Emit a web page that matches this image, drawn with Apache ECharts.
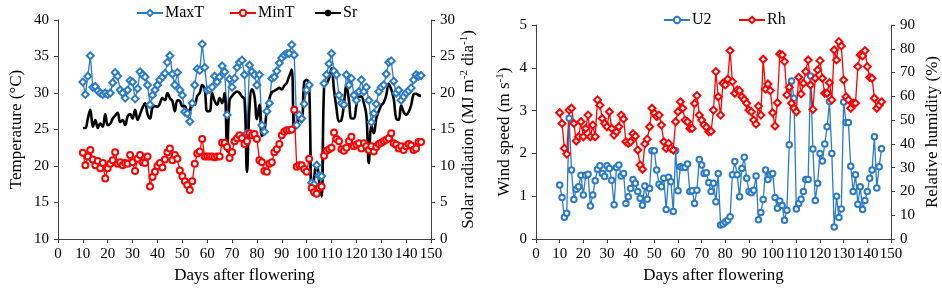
<!DOCTYPE html>
<html>
<head>
<meta charset="utf-8">
<script src="https://cdn.jsdelivr.net/npm/echarts@6/dist/echarts.min.js"></script>
<style>
  html, body { margin: 0; padding: 0; background: #fff; }
  #chart { width: 942px; height: 291px; }
</style>
</head>
<body>
<div id="chart"></div>
<script>
// days after flowering, one reading per day
const FIRST_DAY = 10;
const LAST_DAY = 146;

// left panel: temperature (°C) and solar radiation (MJ m-2 dia-1)
const maxT = [
  31.5, 29.8, 32.3, 35.1, 30.8, 30.9, 30.3, 30.0, 29.8, 30.0,
  29.8, 30.0, 31.4, 32.8, 32.3, 30.4, 30.0, 29.3, 30.4, 31.7,
  31.5, 29.2, 30.6, 32.9, 32.5, 32.2, 31.1, 28.4, 29.7, 30.4,
  31.1, 31.8, 32.2, 32.7, 34.2, 35.1, 32.6, 31.1, 32.8, 30.4,
  29.7, 27.4, 27.2, 26.1, 28.6, 31.1, 33.3, 33.1, 36.7, 33.5,
  30.4, 30.5, 30.8, 32.3, 31.5, 32.2, 33.7, 32.9, 27.0, 31.9,
  30.8, 32.0, 33.5, 34.2, 34.5, 32.5, 24.5, 33.8, 32.9, 32.5,
  31.1, 32.5, 25.6, 24.7, 27.5, 28.6, 32.0, 32.2, 33.0, 34.1,
  34.8, 35.2, 35.4, 35.4, 36.6, 35.2, 25.6, 27.0, 26.5, 28.5,
  30.4, 31.1, 17.7, 17.5, 20.1, 18.7, 18.6, 31.3, 32.5, 34.0,
  35.4, 33.0, 32.5, 29.7, 28.6, 28.4, 32.5, 31.1, 32.0, 29.7,
  29.0, 30.2, 31.8, 30.2, 30.8, 29.0, 26.0, 27.2, 28.5, 30.2,
  30.8, 31.1, 32.6, 34.2, 34.4, 31.6, 30.0, 30.4, 29.0, 29.5,
  30.0, 30.3, 30.7, 31.8, 32.5, 32.3, 32.4
];
const minT = [
  21.8, 20.1, 21.3, 22.2, 20.9, 20.1, 20.7, 19.7, 20.4, 18.3,
  19.7, 20.3, 20.8, 21.9, 20.3, 20.5, 20.1, 20.4, 20.3, 21.5,
  20.5, 19.3, 21.0, 21.5, 20.5, 20.4, 21.3, 17.2, 18.5, 19.2,
  20.0, 20.4, 19.8, 20.9, 21.9, 22.4, 20.8, 21.5, 21.0, 19.4,
  18.6, 17.9, 17.4, 16.7, 17.9, 20.3, 21.7, 22.0, 23.7, 21.3,
  21.3, 21.3, 21.3, 21.2, 21.3, 21.3, 23.2, 23.2, 22.6, 21.1,
  21.9, 23.4, 23.8, 24.2, 23.8, 23.0, 23.4, 24.5, 24.2, 24.4,
  23.7, 20.8, 20.5, 19.3, 19.2, 20.3, 20.5, 21.9, 22.3, 23.0,
  24.2, 24.7, 24.9, 24.9, 25.0, 27.7, 19.9, 20.1, 20.1, 19.6,
  19.2, 21.0, 17.0, 16.4, 16.2, 17.0, 17.2, 21.4, 22.1, 22.3,
  22.5, 24.6, 23.7, 23.4, 22.3, 22.1, 22.5, 23.4, 24.0, 22.7,
  22.9, 23.1, 22.4, 23.1, 22.7, 22.2, 22.7, 22.0, 22.6, 23.0,
  23.2, 23.4, 23.6, 23.8, 24.5, 23.1, 22.9, 22.4, 22.7, 22.2,
  22.7, 23.0, 22.8, 22.2, 22.4, 23.3, 23.3
];
const sr = [
  15.2, 15.2, 16.5, 17.7, 15.4, 16.3, 15.2, 15.8, 15.4, 17.1,
  15.6, 15.8, 16.5, 16.9, 17.3, 16.0, 16.3, 15.6, 16.8, 17.1,
  16.5, 17.7, 16.3, 17.1, 18.0, 18.6, 17.1, 16.5, 18.0, 18.2,
  18.1, 18.6, 19.3, 19.0, 20.0, 19.3, 18.9, 17.5, 19.0, 18.9,
  18.2, 18.2, 17.5, 17.7, 18.9, 18.4, 19.6, 20.0, 21.1, 20.5,
  17.5, 17.5, 20.0, 18.9, 18.4, 19.3, 18.6, 20.0, 12.0, 19.0,
  19.6, 20.0, 20.2, 20.0, 19.5, 19.2, 9.2, 18.0, 20.5, 19.6,
  16.4, 18.4, 14.1, 14.8, 17.8, 19.2, 20.1, 20.3, 20.5, 20.7,
  20.5, 21.0, 21.4, 22.3, 23.2, 15.0, 15.5, 16.4, 16.0, 21.5,
  21.8, 21.0, 6.5, 8.5, 10.5, 8.0, 5.8, 20.8, 21.3, 22.0,
  23.4, 20.4, 17.9, 16.1, 16.3, 18.5, 21.0, 19.0, 16.5, 16.5,
  18.3, 19.5, 19.5, 18.6, 17.0, 10.4, 15.5, 14.5, 16.5, 17.5,
  18.3, 18.7, 19.7, 21.3, 20.5, 19.2, 16.5, 16.3, 18.3, 17.4,
  17.0, 17.4, 18.3, 19.8, 19.9, 19.7, 19.6
];

// right panel: wind speed (m s-1) and relative humidity (%)
const u2 = [
  1.26, 0.97, 0.51, 0.60, 2.82, 1.61, 0.92, 1.16, 1.22, 1.49,
  1.03, 1.49, 1.51, 0.77, 1.03, 1.36, 1.63, 1.71, 1.53, 1.46,
  1.71, 1.65, 1.37, 0.80, 1.67, 1.73, 1.47, 1.53, 0.83, 0.99,
  1.18, 1.39, 1.30, 1.11, 0.95, 0.79, 1.24, 0.93, 1.18, 2.06,
  2.06, 1.61, 1.28, 1.22, 1.42, 0.69, 1.44, 1.34, 0.64, 2.06,
  1.13, 1.69, 1.67, 1.67, 1.75, 1.11, 1.13, 0.83, 1.14, 1.86,
  1.73, 1.53, 1.55, 1.32, 1.11, 1.30, 0.87, 1.53, 0.33, 0.35,
  0.40, 0.44, 0.52, 1.50, 1.81, 1.50, 0.99, 1.65, 1.91, 1.42,
  1.11, 1.08, 1.14, 1.47, 0.45, 0.62, 0.92, 1.61, 1.39, 1.50,
  1.53, 0.97, 0.72, 0.89, 0.78, 0.44, 0.67, 2.20, 3.69, 3.29,
  0.70, 0.83, 0.93, 1.11, 1.39, 1.39, 3.81, 2.10, 0.90, 1.30,
  2.00, 1.82, 2.22, 2.62, 3.21, 2.00, 0.28, 1.00, 0.50, 0.70,
  3.20, 2.72, 2.72, 1.70, 1.11, 1.50, 0.81, 1.22, 0.69, 0.90,
  1.11, 1.42, 1.61, 2.39, 1.19, 1.69, 2.11
];
const rh = [
  53.1, 48.6, 38.1, 35.7, 54.2, 55.0, 48.6, 41.2, 43.0, 49.3,
  43.0, 46.5, 52.1, 43.0, 47.9, 43.0, 58.5, 56.3, 50.7, 48.6,
  47.2, 53.5, 46.5, 43.7, 45.1, 47.2, 52.1, 50.5, 40.9, 40.2,
  40.9, 44.3, 43.2, 37.4, 31.1, 29.3, 40.0, 42.0, 47.2, 55.0,
  52.9, 51.5, 52.1, 47.9, 40.9, 38.1, 40.2, 38.1, 37.4, 49.3,
  53.5, 57.7, 55.0, 50.0, 49.3, 46.5, 46.5, 57.0, 60.3, 52.1,
  50.0, 48.0, 47.0, 45.1, 45.3, 54.2, 70.4, 59.8, 52.1, 65.5,
  64.8, 67.2, 79.2, 66.2, 61.3, 62.7, 62.4, 59.8, 58.7, 57.1,
  54.2, 53.5, 50.0, 48.3, 55.9, 52.1, 75.6, 63.0, 65.2, 62.4,
  53.1, 47.5, 57.3, 77.8, 77.4, 74.6, 60.6, 63.8, 57.1, 55.0,
  53.5, 68.0, 61.0, 65.5, 70.4, 75.3, 64.8, 54.5, 67.6, 71.1,
  75.0, 67.6, 61.3, 61.3, 65.7, 58.5, 79.5, 75.3, 83.0, 81.2,
  66.9, 59.8, 58.5, 55.0, 57.1, 57.1, 72.5, 77.4, 77.0, 79.2,
  72.5, 68.0, 67.6, 59.2, 55.0, 56.3, 57.7
];

const days = [];
for (let d = FIRST_DAY; d <= LAST_DAY; d++) days.push(d);

const BLUE = '#2b7bc6';
const RED = '#ff0000';
const FONT = 'Liberation Serif';

const pairs = (values) => days.map((d, i) => [d, values[i]]);

function xAxisFor(gridIndex) {
  return {
    gridIndex,
    type: 'value',
    min: 0,
    max: 150,
    interval: 10,
    name: 'Days after flowering',
    nameLocation: 'middle',
    nameGap: 25,
    nameTextStyle: { fontFamily: FONT, fontSize: 17, color: '#000' },
    axisLine: { show: true, lineStyle: { color: '#404040' } },
    axisTick: { show: true, length: 4, lineStyle: { color: '#404040' } },
    axisLabel: { fontFamily: FONT, fontSize: 15, color: '#000', margin: 8 },
    splitLine: { show: false }
  };
}

function yAxisFor(gridIndex, position, min, max, interval, name, gap) {
  return {
    gridIndex,
    type: 'value',
    position,
    min,
    max,
    interval,
    name,
    nameLocation: 'middle',
    nameGap: gap,
    nameRotate: 90,
    nameTextStyle: {
      fontFamily: FONT, fontSize: 17, color: '#000',
      rich: { sup: { fontFamily: FONT, fontSize: 11, color: '#000', padding: [0, 0, 8, 0] } }
    },
    axisLine: { show: true, lineStyle: { color: '#404040' } },
    axisTick: { show: true, length: 4, lineStyle: { color: '#404040' } },
    axisLabel: { fontFamily: FONT, fontSize: 15, color: '#000', margin: 9 },
    splitLine: { show: false }
  };
}

function legendFor(name, left, top) {
  return {
    data: [name],
    left,
    top,
    itemWidth: 26,
    itemHeight: 8,
    itemGap: 4,
    textStyle: { fontFamily: FONT, fontSize: 16, color: '#000', padding: [0, 0, 0, -3] }
  };
}

const chart = echarts.init(document.getElementById('chart'));

chart.setOption({
  animation: false,
  backgroundColor: '#fff',
  legend: [
    legendFor('MaxT', 131, 0),
    legendFor('MinT', 224, 0),
    legendFor('Sr', 309, 0),
    legendFor('U2', 658, 7),
    legendFor('Rh', 733, 7)
  ],
  grid: [
    { left: 58, right: 511, top: 20, bottom: 52 },
    { left: 536, right: 48, top: 25, bottom: 52 }
  ],
  xAxis: [xAxisFor(0), xAxisFor(1)],
  yAxis: [
    yAxisFor(0, 'left', 10, 40, 5, 'Temperature (°C)', 33),
    yAxisFor(0, 'right', 0, 30, 5, 'Solar radiation (MJ m{sup|-2} dia{sup|-1})', 26),
    yAxisFor(1, 'left', 0, 5, 1, 'Wind speed (m s{sup|-1})', 22),
    yAxisFor(1, 'right', 0, 90, 10, 'Relative humidity (%)', 33)
  ],
  series: [
    {
      name: 'MaxT',
      type: 'line',
      xAxisIndex: 0,
      yAxisIndex: 0,
      data: pairs(maxT),
      symbol: 'emptyDiamond',
      symbolSize: 7,
      lineStyle: { color: BLUE, width: 1.3 },
      itemStyle: { color: BLUE, borderWidth: 1.2 }
    },
    {
      name: 'MinT',
      type: 'line',
      xAxisIndex: 0,
      yAxisIndex: 0,
      data: pairs(minT),
      symbol: 'emptyCircle',
      symbolSize: 6,
      lineStyle: { color: RED, width: 1.3 },
      itemStyle: { color: RED, borderWidth: 1.2 }
    },
    {
      name: 'Sr',
      type: 'line',
      xAxisIndex: 0,
      yAxisIndex: 1,
      data: pairs(sr),
      symbol: 'none',
      smooth: 0.4,
      lineStyle: { color: '#000', width: 2.6 },
      itemStyle: { color: '#000' }
    },
    {
      name: 'U2',
      type: 'line',
      xAxisIndex: 1,
      yAxisIndex: 2,
      data: pairs(u2),
      symbol: 'emptyCircle',
      symbolSize: 5.5,
      lineStyle: { color: BLUE, width: 1.3 },
      itemStyle: { color: BLUE, borderWidth: 1.2 }
    },
    {
      name: 'Rh',
      type: 'line',
      xAxisIndex: 1,
      yAxisIndex: 3,
      data: pairs(rh),
      symbol: 'emptyDiamond',
      symbolSize: 7,
      lineStyle: { color: RED, width: 1.3 },
      itemStyle: { color: RED, borderWidth: 1.2 }
    }
  ]
});
</script>
</body>
</html>
